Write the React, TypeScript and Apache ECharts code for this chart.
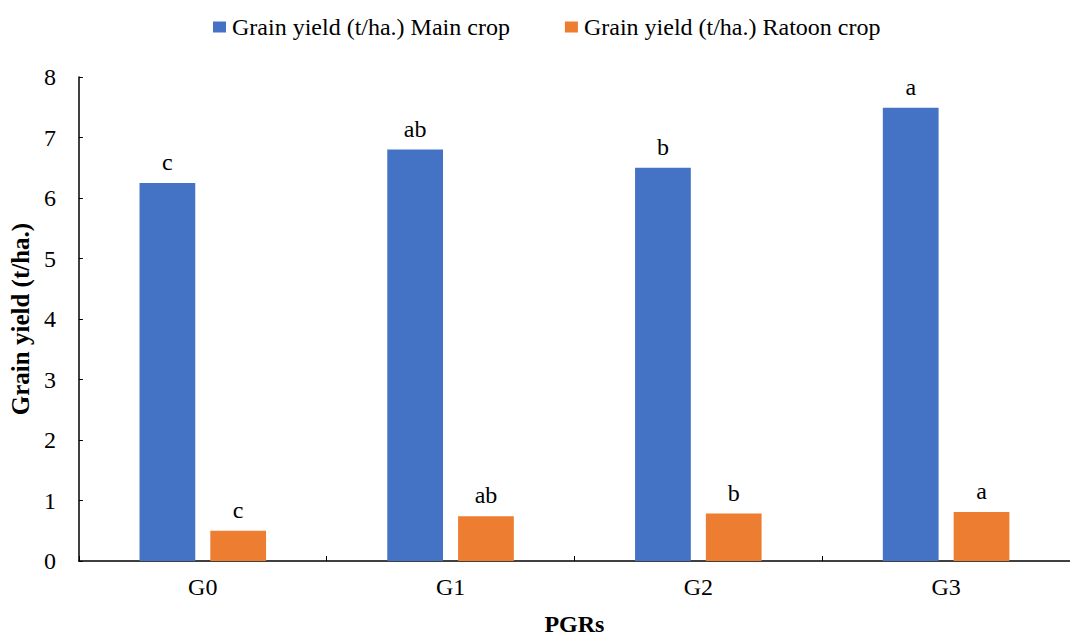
import React, { useEffect, useRef } from "react";
import * as echarts from "echarts";

const categories = ["G0", "G1", "G2", "G3"];
const mainCrop = [6.25, 6.8, 6.5, 7.49];
const ratoonCrop = [0.5, 0.74, 0.785, 0.81];
const mainLetters = ["c", "ab", "b", "a"];
const ratoonLetters = ["c", "ab", "b", "a"];
const seriesNames = ["Grain yield (t/ha.) Main crop", "Grain yield (t/ha.) Ratoon crop"];

const FONT = "'Liberation Serif', 'Times New Roman', serif";

export default function App() {
  const ref = useRef<HTMLDivElement>(null);
  useEffect(() => {
    if (!ref.current) return;
    const chart = echarts.init(ref.current, undefined, { renderer: "svg" });
    const labelFor = (letters: string[]) => ({
      show: true,
      position: "top",
      distance: 9,
      fontFamily: FONT,
      fontSize: 24,
      color: "#000",
      formatter: (p: any) => letters[p.dataIndex],
    });
    chart.setOption({
      animation: false,
      textStyle: { fontFamily: FONT },
      legend: {
        top: 10,
        left: 208,
        itemWidth: 13,
        itemHeight: 11,
        itemGap: 55,
        icon: "rect",
        textStyle: { fontFamily: FONT, fontSize: 24, color: "#000", padding: [0, 0, 0, 1] },
        data: seriesNames,
      },
      grid: { left: 76, right: 0, top: 77, bottom: 73, containLabel: false },
      xAxis: {
        type: "category",
        data: categories,
        name: "PGRs",
        nameLocation: "middle",
        nameGap: 51,
        nameTextStyle: { fontFamily: FONT, fontSize: 24, fontWeight: "bold", color: "#000" },
        axisLine: { lineStyle: { color: "#000", width: 1.5 } },
        axisTick: { show: true, inside: true, length: 5, alignWithLabel: false, lineStyle: { color: "#000" } },
        axisLabel: { fontFamily: FONT, fontSize: 24, color: "#000", margin: 14 },
      },
      yAxis: {
        type: "value",
        min: 0,
        max: 8,
        interval: 1,
        name: "Grain yield (t/ha.)",
        nameLocation: "middle",
        nameGap: 38,
        nameTextStyle: { fontFamily: FONT, fontSize: 25, fontWeight: "bold", color: "#000" },
        axisLine: { show: true, lineStyle: { color: "#000", width: 1.5 } },
        axisTick: { show: true, inside: true, length: 4, lineStyle: { color: "#000" } },
        axisLabel: { fontFamily: FONT, fontSize: 24, color: "#000", margin: 23 },
        splitLine: { show: false },
      },
      series: [
        {
          name: seriesNames[0],
          type: "bar",
          data: mainCrop,
          barWidth: "22.5%",
          barGap: "27%",
          itemStyle: { color: "#4472C4" },
          label: labelFor(mainLetters),
        },
        {
          name: seriesNames[1],
          type: "bar",
          data: ratoonCrop,
          barWidth: "22.5%",
          barGap: "27%",
          itemStyle: { color: "#ED7D31" },
          label: labelFor(ratoonLetters),
        },
      ],
    });
    return () => chart.dispose();
  }, []);
  return (
    <div
      ref={ref}
      style={{ position: "fixed", left: 0, top: 0, width: 1070, height: 641, overflow: "hidden", background: "#fff" }}
    />
  );
}
